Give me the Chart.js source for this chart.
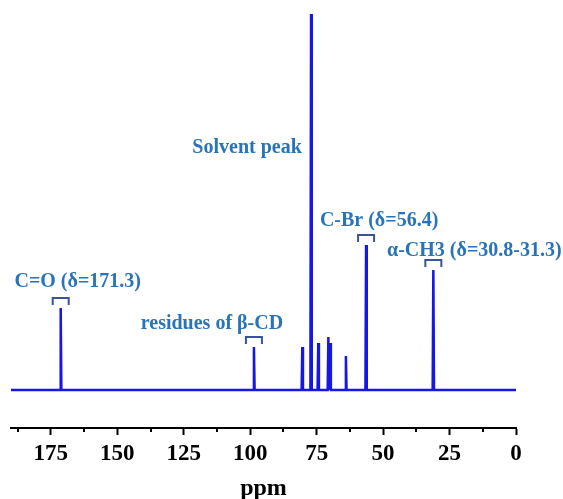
<!DOCTYPE html>
<html><head><meta charset="utf-8">
<script src="https://cdn.jsdelivr.net/npm/chart.js@4/dist/chart.umd.min.js"></script>
<style>html,body{margin:0;padding:0;background:#fff;}canvas{display:block;}</style>
</head><body>
<canvas id="c" width="563" height="499"></canvas>
<script>
// ---- data ----
const peakPpm    = [171.3, 98.6, 80.4, 77.1, 74.4, 70.6, 69.9, 64.0, 56.4, 31.1];
const peakHeight = [82, 43, 43, 376, 47, 53, 47, 34, 145, 120];
const axisRange  = [0, 190];
const majorTicks = [175, 150, 125, 100, 75, 50, 25, 0];
const minorTicks = [187.5, 162.5, 137.5, 112.5, 87.5, 62.5, 37.5, 12.5];
const axisTitle  = 'ppm';
const annoTexts  = ['C=O (δ=171.3)', 'residues of β-CD', 'Solvent peak', 'C-Br (δ=56.4)', 'α-CH3 (δ=30.8-31.3)'];
const annoPpm    = [171.3, 98.6, 77.1, 56.4, 31.1];
const annoHeight = [82, 43, 376, 145, 120];
const annoBracket= [true, true, false, true, true];

// ---- layout / style ----
const annoDx = [17, -42, -64, 13, 41];
const annoDy = [-26, -23, 134, -24, -19];
const lineColor = 'rgb(22,22,230)';
const textColor = 'rgb(40,115,185)';
const bracketColor = 'rgb(55,85,150)';
const halfWidth = 0.25;

// build spectrum points from the peak list
const pts = [{x: axisRange[1], y: 0}];
const order = peakPpm.map((p, i) => i).sort((a, b) => peakPpm[b] - peakPpm[a]);
for (const i of order) {
  pts.push({x: peakPpm[i] + halfWidth, y: 0});
  pts.push({x: peakPpm[i], y: peakHeight[i]});
  pts.push({x: peakPpm[i] - halfWidth, y: 0});
}
pts.push({x: axisRange[0], y: 0});

const minorTickPlugin = {
  id: 'minorTicks',
  afterDraw(chart) {
    const s = chart.scales.x, ctx = chart.ctx;
    ctx.save();
    ctx.strokeStyle = '#000';
    ctx.lineWidth = 2;
    for (const v of minorTicks) {
      const x = Math.round(s.getPixelForValue(v));
      ctx.beginPath();
      ctx.moveTo(x, s.top);
      ctx.lineTo(x, s.top + 4);
      ctx.stroke();
    }
    ctx.restore();
  }
};

const annoPlugin = {
  id: 'annos',
  afterDatasetsDraw(chart) {
    const xs = chart.scales.x, ys = chart.scales.y, ctx = chart.ctx;
    ctx.save();
    ctx.font = 'bold 20px "Liberation Serif", "Times New Roman", serif';
    ctx.textAlign = 'center';
    ctx.textBaseline = 'middle';
    annoTexts.forEach((t, i) => {
      const px = xs.getPixelForValue(annoPpm[i]);
      const py = ys.getPixelForValue(annoHeight[i]);
      if (annoBracket[i]) {
        ctx.strokeStyle = bracketColor;
        ctx.lineWidth = 2;
        ctx.beginPath();
        ctx.moveTo(px - 8, py - 3);
        ctx.lineTo(px - 8, py - 10);
        ctx.lineTo(px + 8, py - 10);
        ctx.lineTo(px + 8, py - 3);
        ctx.stroke();
      }
      ctx.fillStyle = textColor;
      ctx.fillText(t, px + annoDx[i], py + annoDy[i]);
    });
    ctx.restore();
  }
};

new Chart(document.getElementById('c'), {
  type: 'line',
  data: {
    datasets: [{
      data: pts,
      borderColor: lineColor,
      borderWidth: 2.5,
      pointRadius: 0,
      tension: 0,
      fill: false
    }]
  },
  options: {
    responsive: false,
    animation: false,
    devicePixelRatio: 1,
    layout: {padding: {left: 11, right: 47, top: 10, bottom: 0}},
    plugins: {legend: {display: false}, tooltip: {enabled: false}},
    scales: {
      x: {
        type: 'linear',
        reverse: true,
        min: axisRange[0],
        max: axisRange[1],
        afterBuildTicks(scale) { scale.ticks = majorTicks.map(v => ({value: v})); },
        afterFit(scale) { scale.height = 71; },
        border: {display: true, color: '#000', width: 2},
        grid: {drawOnChartArea: false, drawTicks: true, tickLength: 7, tickWidth: 2, tickColor: '#000'},
        ticks: {
          color: '#000',
          padding: 8,
          maxRotation: 0,
          autoSkip: false,
          font: {family: '"Liberation Serif", "Times New Roman", serif', weight: 'bold', size: 23, lineHeight: 1}
        },
        title: {
          display: true,
          text: axisTitle,
          color: '#000',
          padding: {top: 0, bottom: 0},
          font: {family: '"Liberation Serif", "Times New Roman", serif', weight: 'bold', size: 24, lineHeight: 0.85}
        }
      },
      y: {
        display: false,
        min: -38,
        max: 380
      }
    }
  },
  plugins: [minorTickPlugin, annoPlugin]
});
</script>
</body></html>
